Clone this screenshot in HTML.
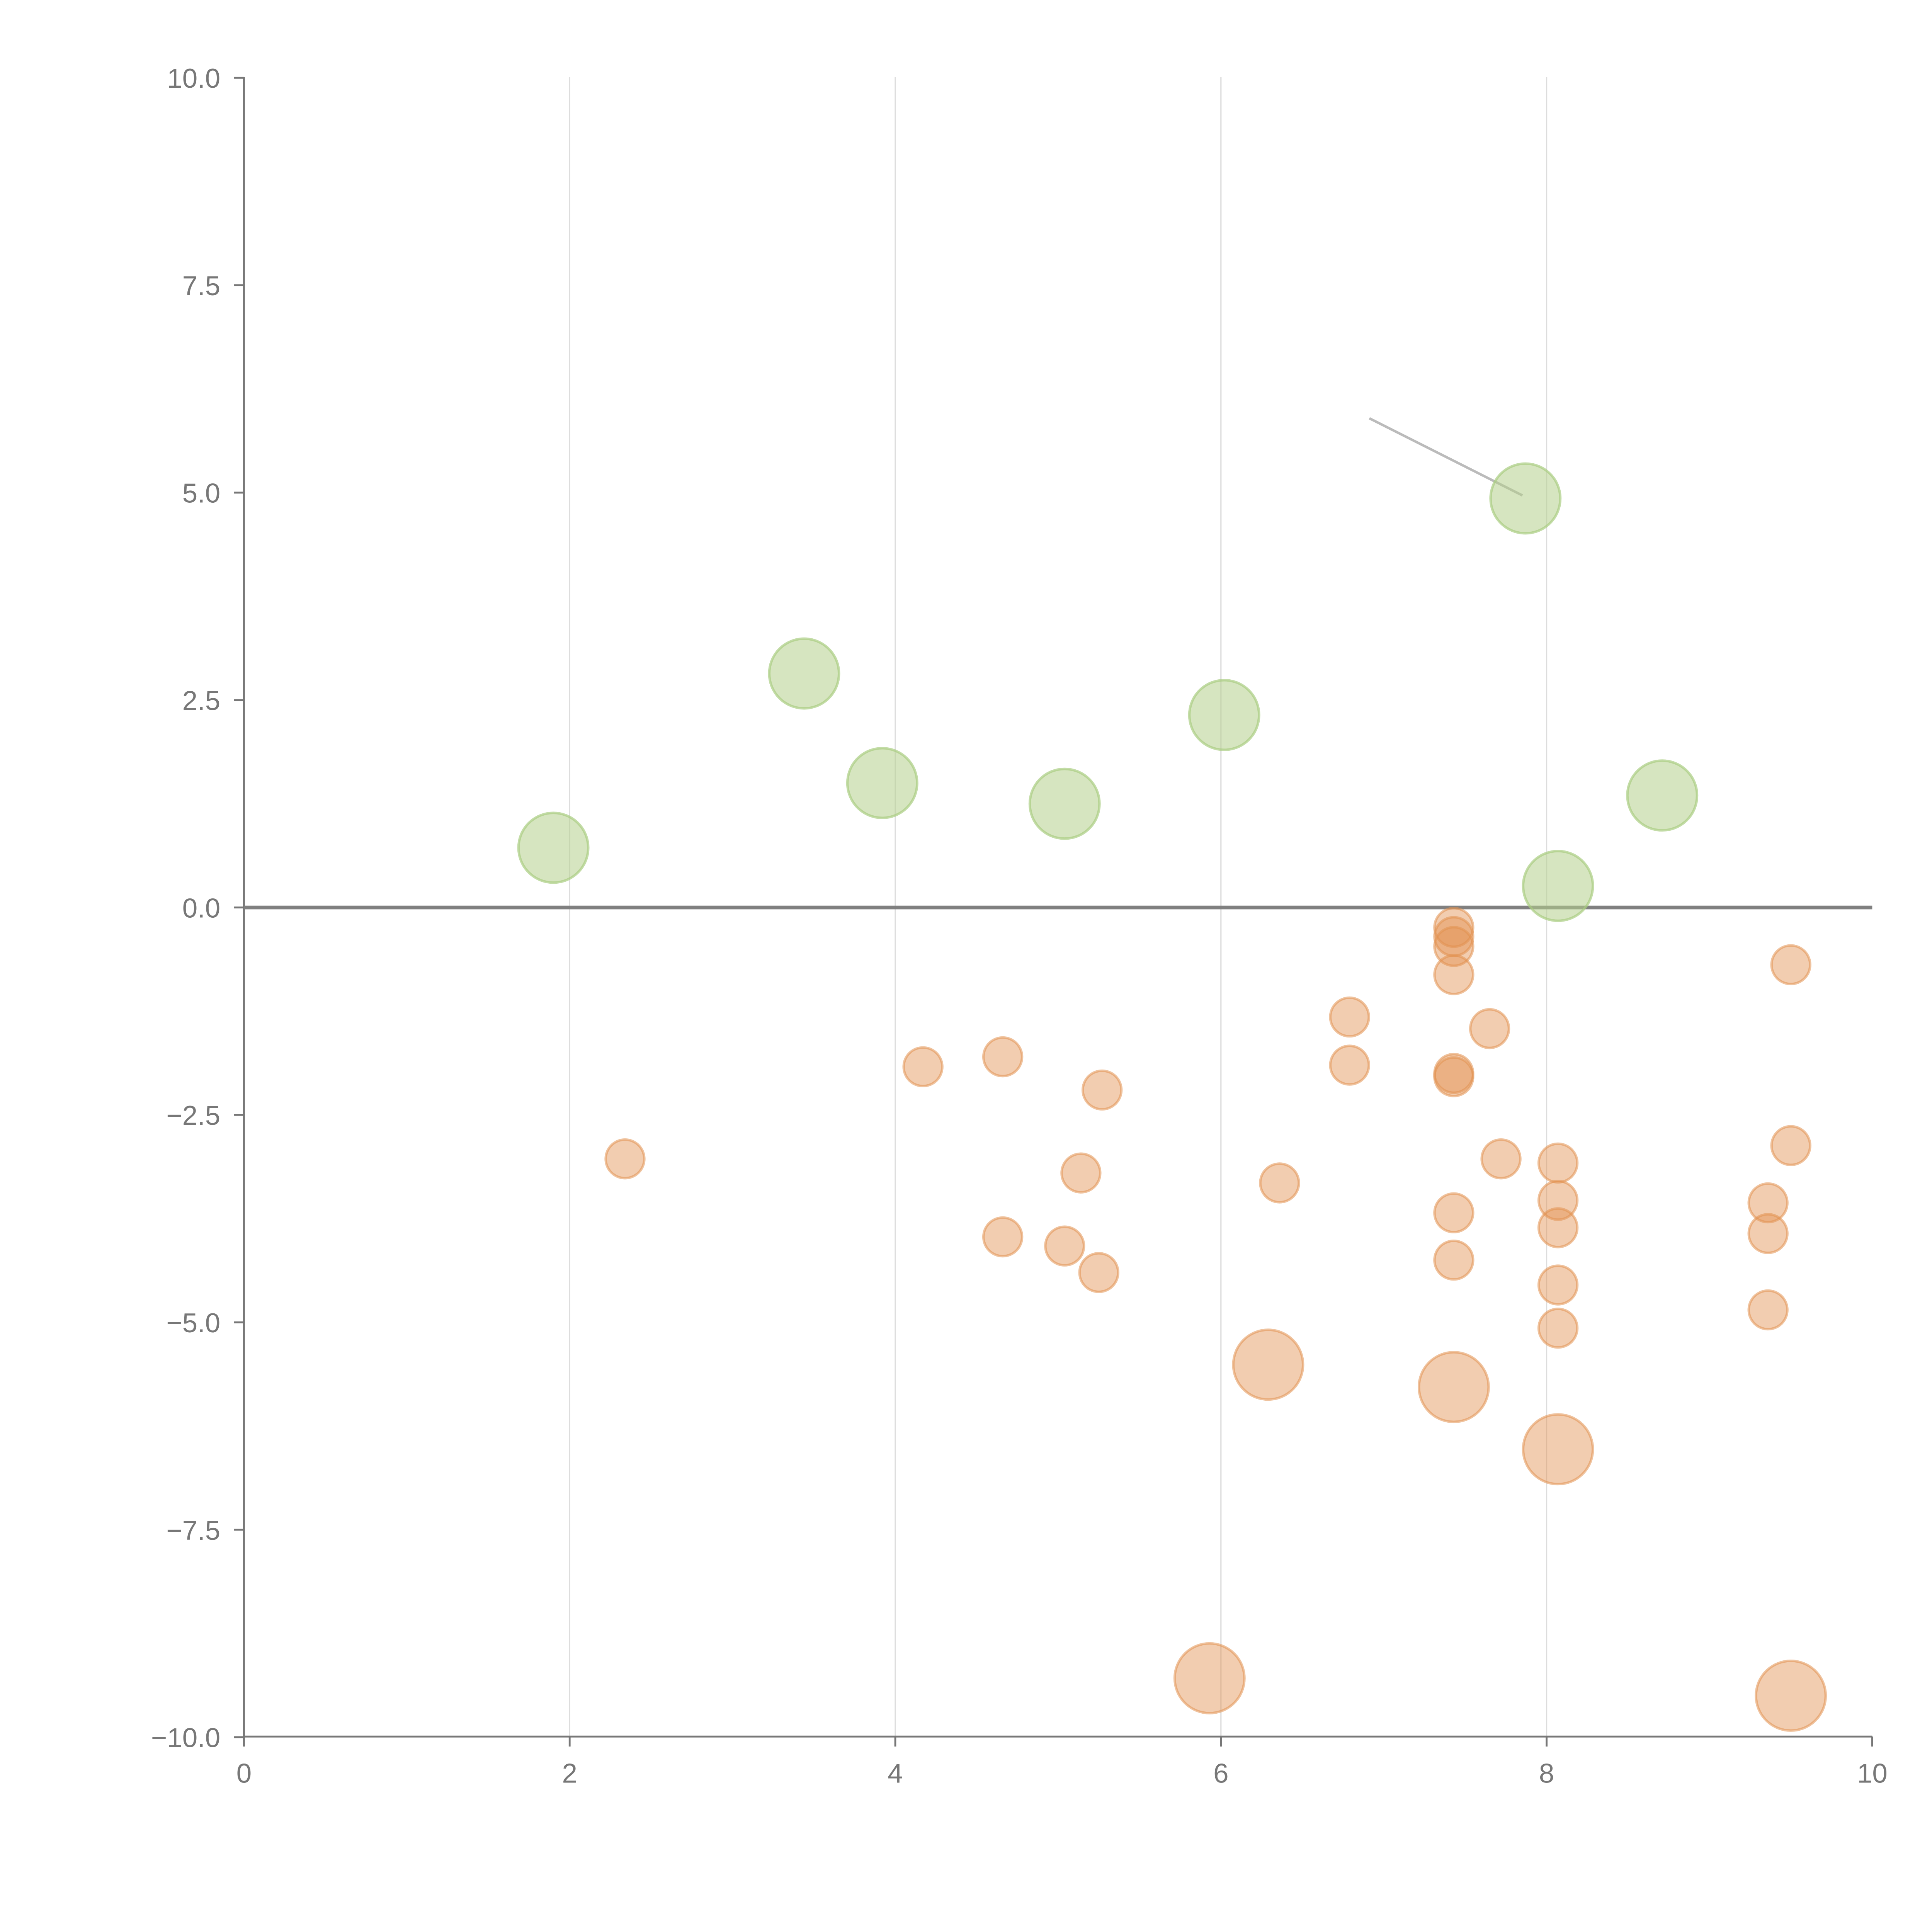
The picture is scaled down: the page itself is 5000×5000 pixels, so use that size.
<!DOCTYPE html>
<html><head><meta charset="utf-8"><style>html,body{margin:0;padding:0;background:#fff}svg{display:block}text{font-family:"Liberation Sans",sans-serif;fill:#777;font-size:22px}</style></head>
<body>
<svg id="chart" width="5000" height="5000" viewBox="0 0 1552 1552" xmlns="http://www.w3.org/2000/svg">
<g id="grid"></g>
<g id="axes"></g>
<line x1="1100" y1="336" x2="1223" y2="398" stroke="#bbb" stroke-width="2"/>
<g id="marks"></g>
</svg>
<script>
const greenX=[1.9,3.44,3.92,5.04,6.02,7.87,8.07,8.71];
const greenY=[0.72,2.82,1.5,1.25,2.32,4.93,0.26,1.35];
const orangeX=[2.34,4.17,4.66,4.66,5.14,5.04,5.27,5.25,6.36,6.79,6.79,7.43,7.43,7.43,7.43,7.43,7.43,7.43,7.43,7.65,7.72,8.07,8.07,8.07,8.07,8.07,9.36,9.36,9.36,9.5,9.5];
const orangeY=[-3.03,-1.92,-1.8,-3.97,-3.2,-4.08,-2.2,-4.4,-3.32,-1.32,-1.9,-0.24,-0.35,-0.47,-0.81,-2.0,-2.04,-3.68,-4.25,-1.46,-3.03,-3.08,-3.53,-3.86,-4.55,-5.07,-3.56,-3.93,-4.85,-0.69,-2.87];
const bigX=[6.29,7.43,8.07,5.93,9.5];
const bigY=[-5.51,-5.78,-6.53,-9.29,-9.5];
const xTicks=[0,2,4,6,8,10];
const yTicks=[10,7.5,5,2.5,0,-2.5,-5,-7.5,-10];

const NS="http://www.w3.org/2000/svg";
const sx=v=>196+(v-0)*(1504-196)/10;
const sy=v=>729-v*(1395-62)/20;
function mk(tag,attrs,parent){const e=document.createElementNS(NS,tag);for(const k in attrs)e.setAttribute(k,attrs[k]);parent.appendChild(e);return e;}
const grid=document.getElementById('grid'),axes=document.getElementById('axes'),marks=document.getElementById('marks');
xTicks.forEach(t=>{
  if(t>0&&t<10){const l=mk('line',{x1:sx(t),x2:sx(t),y1:62,y2:1395,stroke:'#ddd','stroke-width':1},grid);
  
  }
  const tk=mk('line',{x1:sx(t),x2:sx(t),y1:1395,y2:1403,stroke:'#777','stroke-width':1.5},axes);
  
  
  const tx=mk('text',{x:sx(t),y:1432,'text-anchor':'middle'},axes);tx.textContent=t;
  
  
});
yTicks.forEach(t=>{
  const tk=mk('line',{x1:188,x2:196,y1:sy(t),y2:sy(t),stroke:'#777','stroke-width':1.5},axes);
  
  
  const tx=mk('text',{x:177,y:sy(t)+8,'text-anchor':'end'},axes);tx.textContent=(t<0?'\u2212':'')+Math.abs(t).toFixed(1);
  
  
});
let a=mk('line',{x1:196,x2:196,y1:62,y2:1395,stroke:'#777','stroke-width':1.5},axes);


a=mk('line',{x1:196,x2:1504,y1:1395,y2:1395,stroke:'#777','stroke-width':1.5},axes);


a=mk('line',{x1:196,x2:1504,y1:sy(0),y2:sy(0),stroke:'#808080','stroke-width':3},axes);


greenX.forEach((x,i)=>{const c=mk('circle',{cx:sx(x),cy:sy(greenY[i]),r:28,fill:'rgba(180,208,140,0.55)',stroke:'rgba(170,205,130,0.7)','stroke-width':2},marks);
  
  });
orangeX.forEach((x,i)=>{const c=mk('circle',{cx:sx(x),cy:sy(orangeY[i]),r:15.5,fill:'rgba(226,145,80,0.45)',stroke:'rgba(226,145,80,0.55)','stroke-width':2},marks);
  
  });
bigX.forEach((x,i)=>{const c=mk('circle',{cx:sx(x),cy:sy(bigY[i]),r:28,fill:'rgba(226,145,80,0.45)',stroke:'rgba(226,145,80,0.55)','stroke-width':2},marks);
  
  });
</script>
</body></html>
